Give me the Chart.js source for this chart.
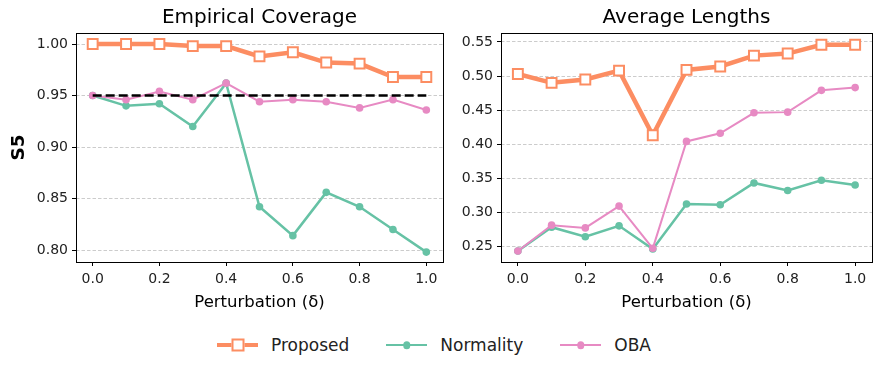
<!DOCTYPE html>
<html>
<head>
<meta charset="utf-8">
<script src="https://cdn.jsdelivr.net/npm/chart.js@4.4.1/dist/chart.umd.min.js"></script>
<style>
body { margin: 0; background: #fff; width: 881px; height: 373px; position: relative; overflow: hidden; font-family: "DejaVu Sans", sans-serif; }
canvas { position: absolute; top: 0; }
#left { left: 0; }
#right { left: 440px; }
#legend { position: absolute; top: 335px; left: 217px; display: flex; align-items: center; font-size: 17px; color: #222; }
.item { display: flex; align-items: center; margin-right: 37px; }
.sample { position: relative; width: 41px; height: 3px; margin-right: 13px; }
.sample i { position: absolute; left: 50%; top: 50%; transform: translate(-50%, -50%); display: block; }
</style>
</head>
<body>
<canvas id="left" width="452" height="320"></canvas>
<canvas id="right" width="441" height="320"></canvas>
<div id="legend"></div>
<script>
const deltas = [0.0, 0.1, 0.2, 0.3, 0.4, 0.5, 0.6, 0.7, 0.8, 0.9, 1.0];
const seriesNames = ["Proposed", "Normality", "OBA"];
const seriesColors = ["#fc8d62", "#66c2a5", "#e78ac3"];

// Empirical coverage
const covProposed = [1.000, 1.000, 1.000, 0.998, 0.998, 0.988, 0.992, 0.982, 0.981, 0.968, 0.968];
const covNormality = [0.950, 0.940, 0.942, 0.920, 0.962, 0.842, 0.814, 0.856, 0.842, 0.820, 0.798];
const covOBA = [0.950, 0.946, 0.954, 0.946, 0.962, 0.944, 0.946, 0.944, 0.938, 0.946, 0.936];
const targetCoverage = 0.95;

// Average lengths
const lenProposed = [0.503, 0.490, 0.495, 0.508, 0.413, 0.509, 0.514, 0.530, 0.533, 0.546, 0.546];
const lenNormality = [0.243, 0.278, 0.264, 0.280, 0.246, 0.312, 0.311, 0.343, 0.332, 0.347, 0.340];
const lenOBA = [0.243, 0.281, 0.277, 0.309, 0.247, 0.404, 0.416, 0.446, 0.447, 0.479, 0.483];

const xTicks = [0.0, 0.2, 0.4, 0.6, 0.8, 1.0];
const covTicks = [0.80, 0.85, 0.90, 0.95, 1.00];
const lenTicks = [0.25, 0.30, 0.35, 0.40, 0.45, 0.50, 0.55];

const font = "DejaVu Sans";
const toPoints = ys => ys.map((y, i) => ({ x: deltas[i], y }));

const frame = {
    id: "frame",
    afterDraw(chart) {
        const { ctx, chartArea: a } = chart;
        ctx.save();
        ctx.strokeStyle = "#000";
        ctx.lineWidth = 1;
        ctx.strokeRect(Math.round(a.left) + 0.5, Math.round(a.top) + 0.5,
            Math.round(a.right - a.left), Math.round(a.bottom - a.top));
        ctx.restore();
    }
};

function seriesDatasets(proposed, normality, oba) {
    return [
        {
            label: seriesNames[0], data: toPoints(proposed), order: 1,
            borderColor: seriesColors[0], borderWidth: 4.5,
            pointStyle: "rect", pointRadius: 7, pointBorderWidth: 2,
            pointBackgroundColor: "#fff", pointBorderColor: seriesColors[0]
        },
        {
            label: seriesNames[1], data: toPoints(normality), order: 3,
            borderColor: seriesColors[1], backgroundColor: seriesColors[1], borderWidth: 2.5,
            pointRadius: 3.8, pointBorderWidth: 0
        },
        {
            label: seriesNames[2], data: toPoints(oba), order: 2,
            borderColor: seriesColors[2], backgroundColor: seriesColors[2], borderWidth: 2,
            pointRadius: 3.8, pointBorderWidth: 0
        }
    ];
}

function makeConfig(title, datasets, yMin, yMax, yTicks, yWidth, padRight, yTitle) {
    return {
        type: "scatter",
        data: { datasets },
        options: {
            responsive: false,
            animation: false,
            showLine: true,
            layout: { padding: { left: 0, right: padRight, top: 0, bottom: 0 } },
            elements: { line: { tension: 0 } },
            plugins: {
                legend: { display: false },
                tooltip: { enabled: false },
                title: {
                    display: true, text: title, fullSize: false, color: "#000",
                    font: { family: font, size: 20, weight: "normal", lineHeight: 1.2 },
                    padding: { top: 6, bottom: 3 }
                }
            },
            scales: {
                x: {
                    type: "linear", min: -0.05, max: 1.05,
                    afterBuildTicks: s => { s.ticks = xTicks.map(v => ({ value: v })); },
                    afterFit: s => { s.height = 58; },
                    grid: { drawOnChartArea: false, drawTicks: true, tickLength: 4, tickColor: "#000" },
                    border: { display: false },
                    ticks: {
                        color: "#222", padding: 5, maxRotation: 0,
                        font: { family: font, size: 14 },
                        callback: v => v.toFixed(1)
                    },
                    title: {
                        display: true, text: "Perturbation (δ)", color: "#000",
                        font: { family: font, size: 16.5, lineHeight: 1.1 },
                        padding: { top: 0, bottom: 8 }
                    }
                },
                y: {
                    min: yMin, max: yMax,
                    afterBuildTicks: s => { s.ticks = yTicks.map(v => ({ value: v })); },
                    afterFit: s => { s.width = yWidth; },
                    grid: { color: "#cccccc", lineWidth: 1, drawTicks: true, tickLength: 4, tickColor: "#000" },
                    border: { display: false, dash: [3.5, 2] },
                    ticks: {
                        color: "#222", padding: 4,
                        font: { family: font, size: 14 },
                        callback: v => v.toFixed(2)
                    },
                    title: yTitle ? {
                        display: true, text: yTitle, color: "#000",
                        font: { family: font, size: 18.5, weight: "bold", lineHeight: 1.2 },
                        padding: { top: 8.5, bottom: 0 }
                    } : { display: false }
                }
            }
        },
        plugins: [frame]
    };
}

const covSets = seriesDatasets(covProposed, covNormality, covOBA);
covSets.push({
    label: "target", data: [{ x: deltas[0], y: targetCoverage }, { x: deltas[deltas.length - 1], y: targetCoverage }],
    order: 0, borderColor: "#000", borderWidth: 2.5, borderDash: [9, 4], pointRadius: 0
});

new Chart(document.getElementById("left"),
    makeConfig("Empirical Coverage", covSets, 0.7884, 1.0107, covTicks, 76, 6, "S5"));
new Chart(document.getElementById("right"),
    makeConfig("Average Lengths", seriesDatasets(lenProposed, lenNormality, lenOBA), 0.2269, 0.5632, lenTicks, 61, 9, null));

// legend
const legend = document.getElementById("legend");
seriesNames.forEach((name, i) => {
    const item = document.createElement("div");
    item.className = "item";
    const sample = document.createElement("span");
    sample.className = "sample";
    sample.style.background = seriesColors[i];
    sample.style.height = i === 0 ? "4.5px" : (i === 1 ? "2.5px" : "2px");
    const mark = document.createElement("i");
    if (i === 0) {
        mark.style.cssText += "background:#fff;border:2px solid " + seriesColors[0] + ";box-sizing:content-box;";
        mark.style.width = "9px"; mark.style.height = "9px";
    } else {
        mark.style.cssText += "width:7.5px;height:7.5px;border-radius:50%;background:" + seriesColors[i] + ";";
    }
    sample.appendChild(mark);
    const label = document.createElement("span");
    label.textContent = name;
    item.appendChild(sample);
    item.appendChild(label);
    legend.appendChild(item);
});
</script>
</body>
</html>
